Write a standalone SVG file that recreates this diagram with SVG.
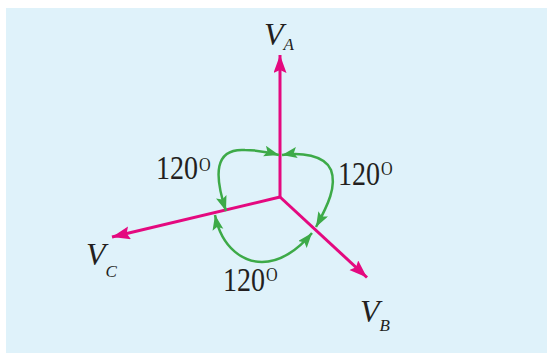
<svg xmlns="http://www.w3.org/2000/svg" width="547" height="353" viewBox="0 0 547 353">
<defs>
<style>
.bg{fill:#DFF2FA}
.ph{stroke:#E4097F;stroke-width:3;fill:none}
.ang{stroke:#3DAA48;stroke-width:2.5;fill:none}
.vl{font-family:"Liberation Serif","Times New Roman",serif;font-style:italic;fill:#231F20;font-size:32px}
.sub{font-size:17px}
.num{font-family:"Liberation Serif","Times New Roman",serif;fill:#231F20;font-size:33px}
.deg{font-size:19px}
</style>
<marker id="mArrow" markerUnits="userSpaceOnUse" markerWidth="20" markerHeight="14" refX="18" refY="6.5" orient="auto">
<path d="M0,0 L18,6.5 L0,13 L3,6.5 z" fill="#E4097F"/>
</marker>
<marker id="gArrow" markerUnits="userSpaceOnUse" markerWidth="16" markerHeight="12" refX="15" refY="5.5" orient="auto-start-reverse">
<path d="M0,0 L15,5.5 L0,11 L3,5.5 z" fill="#3DAA48"/>
</marker>
</defs>
<rect class="bg" x="6" y="8" width="541" height="345"/>
<g id="connectors">
<line class="ph" x1="280" y1="197" x2="280" y2="55" marker-end="url(#mArrow)"/>
<line class="ph" x1="280" y1="197" x2="367" y2="277.5" marker-end="url(#mArrow)"/>
<line class="ph" x1="280" y1="197" x2="112" y2="237" marker-end="url(#mArrow)"/>
<path class="ang" d="M226,211 C214,175 214,148 245,150 C258,150 268,152 279,155" marker-start="url(#gArrow)" marker-end="url(#gArrow)"/>
<path class="ang" d="M282,155 C300,152 325,155 331,170 C337,186 328,205 316,227" marker-start="url(#gArrow)" marker-end="url(#gArrow)"/>
<path class="ang" d="M215,215 C222,250 245,262 262,262 C280,262 298,250 312,233" marker-start="url(#gArrow)" marker-end="url(#gArrow)"/>
</g>
<g id="VA">
<text class="vl" x="264" y="45">V<tspan class="sub" dy="5">A</tspan></text>
</g>
<g id="VB">
<text class="vl" x="360" y="322">V<tspan class="sub" dy="9">B</tspan></text>
</g>
<g id="VC">
<text class="vl" x="86" y="265">V<tspan class="sub" dy="12">C</tspan></text>
</g>
<g id="angle-AC">
<text class="num" transform="translate(156,179) scale(0.85,1)">120<tspan class="deg" dx="1" dy="-8.5">O</tspan></text>
</g>
<g id="angle-AB">
<text class="num" transform="translate(338,185) scale(0.85,1)">120<tspan class="deg" dx="1" dy="-10">O</tspan></text>
</g>
<g id="angle-BC">
<text class="num" transform="translate(223,290.5) scale(0.85,1)">120<tspan class="deg" dx="1" dy="-9.5">O</tspan></text>
</g>
</svg>
